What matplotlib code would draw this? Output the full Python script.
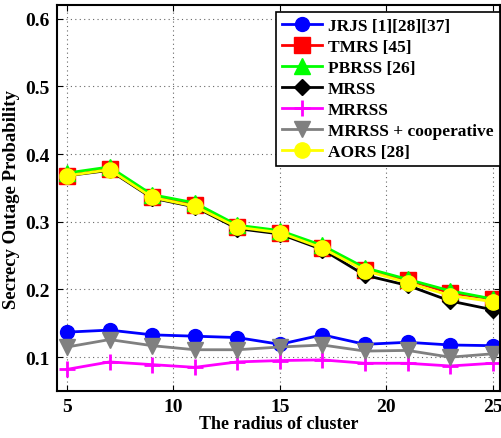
import matplotlib
matplotlib.use("Agg")
from matplotlib import pyplot as plt

radius = [5, 7, 9, 11, 13, 15, 17, 19, 21, 23, 25]

jrjs = [0.137, 0.140, 0.133, 0.131, 0.129, 0.119, 0.133, 0.119, 0.122, 0.118, 0.117]
tmrs = [0.368, 0.378, 0.337, 0.325, 0.293, 0.284, 0.262, 0.229, 0.214, 0.195, 0.186]
pbrss = [0.372, 0.381, 0.340, 0.328, 0.295, 0.287, 0.265, 0.232, 0.215, 0.198, 0.186]
mrss = [0.368, 0.376, 0.335, 0.322, 0.290, 0.282, 0.259, 0.221, 0.206, 0.183, 0.170]
mrrss = [0.082, 0.093, 0.089, 0.085, 0.093, 0.095, 0.096, 0.091, 0.091, 0.087, 0.091]
mrrss_coop = [0.115, 0.126, 0.117, 0.111, 0.111, 0.115, 0.118, 0.109, 0.110, 0.100, 0.105]
aors = [0.368, 0.377, 0.336, 0.323, 0.292, 0.284, 0.261, 0.228, 0.210, 0.191, 0.182]

labels = ["JRJS [1][28][37]", "TMRS [45]", "PBRSS [26]", "MRSS", "MRRSS",
          "MRRSS + cooperative", "AORS [28]"]


def main():
    plt.rcParams["font.family"] = ["Liberation Serif", "DejaVu Serif"]
    plt.rcParams["font.weight"] = "bold"

    fig = plt.figure(figsize=(5.02, 4.39), dpi=100)
    ax = fig.add_axes([0.1135, 0.107, 0.882, 0.879])

    ax.plot(radius, jrjs, color="blue", marker="o", ms=10, lw=2, label=labels[0])
    ax.plot(radius, tmrs, color="red", marker="s", ms=12, lw=2, label=labels[1])
    ax.plot(radius, pbrss, color="#00ff00", marker="^", ms=12, lw=2, label=labels[2])
    ax.plot(radius, mrss, color="black", marker="D", ms=8, lw=2, label=labels[3])
    ax.plot(radius, mrrss, color="magenta", marker="+", ms=11, mew=2, lw=2,
            label=labels[4])
    ax.plot(radius, mrrss_coop, color="gray", marker="v", ms=11, lw=2,
            label=labels[5])
    ax.plot(radius, aors, color="yellow", marker="o", ms=11, lw=2, label=labels[6])

    ax.set_xlim(4.53, 25.33)
    ax.set_ylim(0.05, 0.62)
    ax.set_xticks([5, 10, 15, 20, 25])
    ax.set_yticks([0.1, 0.2, 0.3, 0.4, 0.5, 0.6])
    ax.grid(True, linestyle=(0, (1, 3)), color="black", lw=0.8, alpha=0.6)
    ax.tick_params(direction="in", top=True, right=True, labelsize=14, length=4,
                   pad=5)
    for lab in ax.get_xticklabels() + ax.get_yticklabels():
        lab.set_fontweight("bold")
    for s in ax.spines.values():
        s.set_linewidth(1.5)

    ax.set_xlabel("The radius of cluster", fontsize=13, fontweight="bold",
                  labelpad=0)
    ax.set_ylabel("Secrecy Outage Probability", fontsize=13.5, fontweight="bold",
                  labelpad=4)

    leg = ax.legend(loc="upper right", bbox_to_anchor=(1.0, 0.982),
                    handlelength=2.3, borderaxespad=0.0, labelspacing=0.28,
                    handletextpad=0.35, fancybox=False, framealpha=1,
                    edgecolor="black", borderpad=0.35,
                    prop={"weight": "bold", "size": 12.5})
    leg.get_frame().set_linewidth(1.2)

    fig.savefig("out.png", dpi=100)


if __name__ == "__main__":
    main()
